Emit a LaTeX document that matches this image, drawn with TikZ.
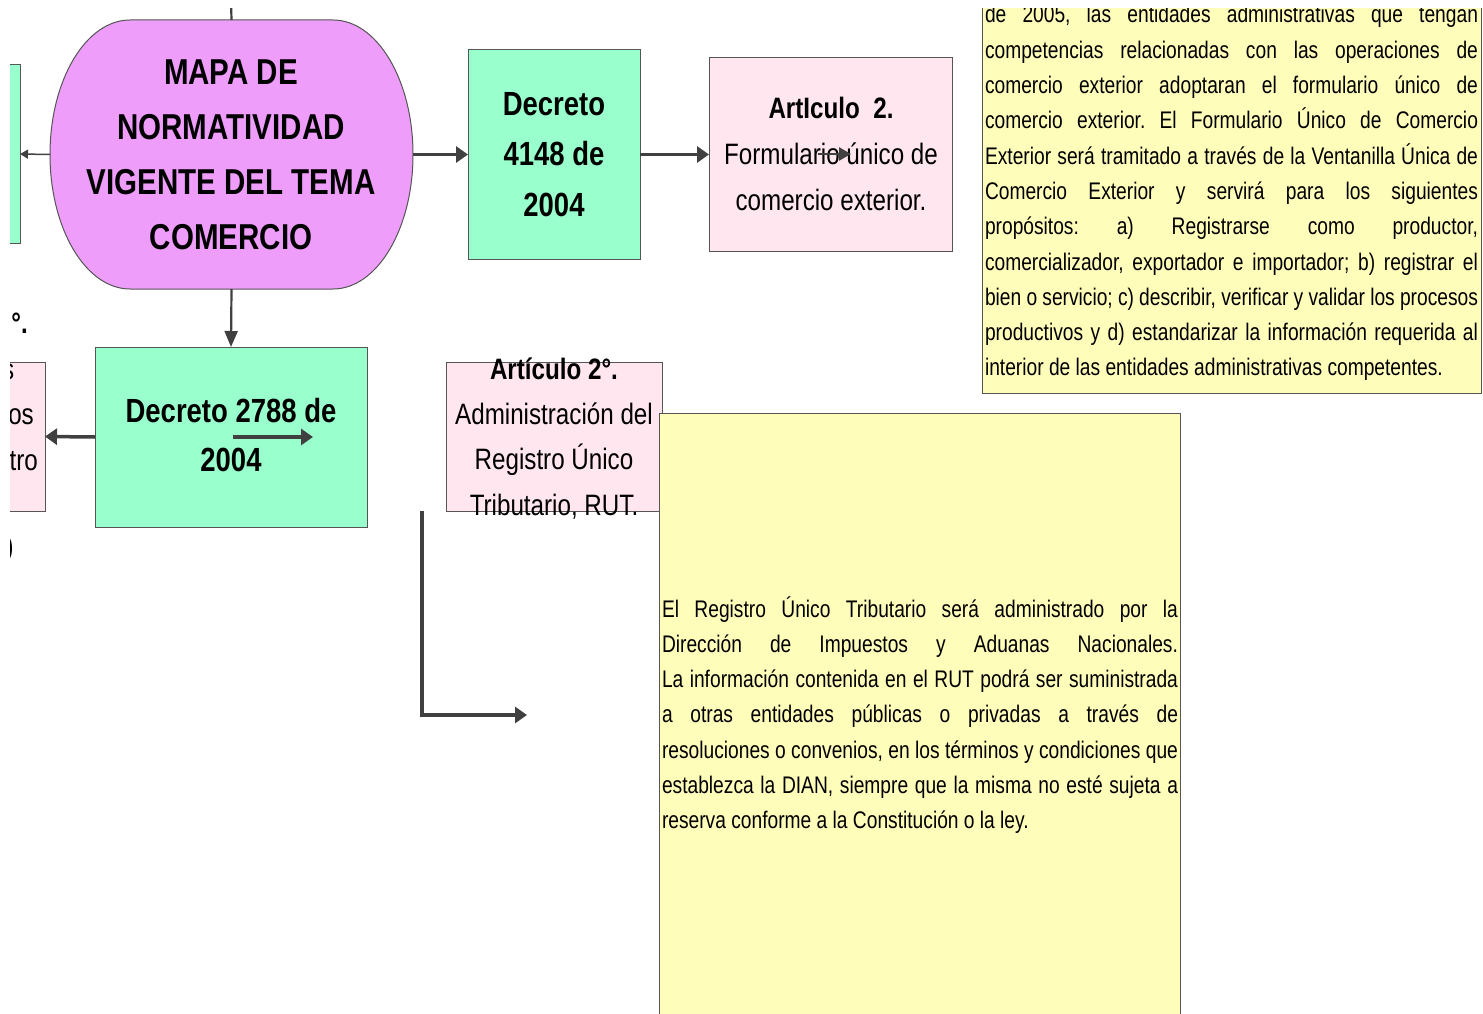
\documentclass[tikz,border=0pt]{standalone}
\usepackage{fontspec}
\setmainfont{Liberation Sans}[FakeStretch=0.82]
\newfontfamily\parafont{Liberation Sans}[FakeStretch=0.8]
\usetikzlibrary{arrows.meta}
\definecolor{purp}{HTML}{EE9EFA}
\definecolor{grn}{HTML}{99FFCC}
\definecolor{pnk}{HTML}{FFE6EF}
\definecolor{ylw}{HTML}{FFFDBA}
\definecolor{lineg}{HTML}{404040}
\definecolor{edgec}{HTML}{555555}
\newcommand\jline[1]{\makebox[\hsize][s]{#1}\\}
\frenchspacing
\begin{document}
\begin{tikzpicture}[x=1pt,y=-1pt,
  box/.style={draw=edgec, line width=1pt, inner sep=0pt, outer sep=0pt},
  txt/.style={inner sep=0pt, outer sep=0pt, align=center, anchor=base},
  bigb/.style={font=\fontsize{33.5}{50.5}\selectfont\bfseries},
  midf/.style={font=\fontsize{29.5}{45.8}\selectfont},
  para/.style={inner sep=0pt, outer sep=0pt, anchor=base west, align=justify, font=\parafont\fontsize{24}{35.3}\selectfont\frenchspacing},
  conn/.style={draw=lineg, line width=3.5pt, -{Triangle[length=12pt,width=16pt]}},
  thinconn/.style={draw=lineg, line width=1.5pt, -{Triangle[length=8pt,width=9pt]}},
  midconn/.style={draw=lineg, line width=2.2pt, -{Triangle[length=16pt,width=13pt]}}]
\useasboundingbox (0,0) rectangle (1483,1014);
\fill[white] (0,0) rectangle (1483,1014);
\clip (10,9) rectangle (1483,1014);

% main stadium shape
\filldraw[fill=purp, draw=edgec, line width=1pt]
  (130,20) -- (333,20) arc[start angle=-90, end angle=90, x radius=80, y radius=134.5]
  -- (130,289) arc[start angle=90, end angle=270, x radius=80, y radius=134.5] -- cycle;
\node[inner sep=0pt, outer sep=0pt, minimum width=363pt, minimum height=269pt] (ell) at (231.5,154.5) {};
\node[txt, font=\fontsize{36}{55}\selectfont\bfseries] (elltxt) at (231,249)
  {MAPA DE\\NORMATIVIDAD\\VIGENTE DEL TEMA\\COMERCIO};

% boxes
\node[box, fill=grn, minimum width=40pt, minimum height=178pt] (lgreen) at (0,154) {};
\node[box, fill=grn, minimum width=172pt, minimum height=209pt] (d4148) at (554,154.5) {};
\node[box, fill=pnk, minimum width=243pt, minimum height=193pt] (art2) at (830.5,154.5) {};
\node[box, fill=ylw, minimum width=499pt, minimum height=453pt] (ytop) at (1231.5,166.5) {};
\node[box, fill=grn, minimum width=272pt, minimum height=180pt] (d2788) at (231,437) {};
\node[box, fill=pnk, minimum width=145pt, minimum height=149pt] (lpink) at (-27.5,436.5) {};
\node[box, fill=pnk, minimum width=216pt, minimum height=149pt] (rut) at (554,436.5) {};

% texts
\node[txt, bigb] (d4148t) at (554,216) {Decreto\\4148 de\\2004};
\node[txt, midf] (art2t) at (831,210) {\textbf{ArtIculo\ \ 2.}\\Formulario único de\\comercio exterior.};
\node[txt, font=\fontsize{33.5}{49}\selectfont\bfseries] (d2788t) at (231,471) {Decreto 2788 de\\2004};
\node[txt, font=\fontsize{29.5}{45.3}\selectfont] (rutt) at (554,515)
  {\textbf{Artículo 2°.}\\Administración del\\Registro Único\\Tributario, RUT.};
\node[inner sep=0pt, anchor=base east, font=\fontsize{29.5}{45}\selectfont\bfseries] (lf1) at (28,333) {°.};
\node[inner sep=0pt, anchor=base east, font=\fontsize{29.5}{45}\selectfont] (lf2) at (14.5,379) {s};
\node[inner sep=0pt, anchor=base east, font=\fontsize{29.5}{45}\selectfont] (lf3) at (34,424) {os};
\node[inner sep=0pt, anchor=base east, font=\fontsize{29.5}{45}\selectfont] (lf4) at (38,470) {tro};
\node[inner sep=0pt, anchor=base east, font=\fontsize{29.5}{45}\selectfont] (lf5) at (14,556) {)};

\node[box, fill=ylw, minimum width=521pt, minimum height=617pt] (ybot) at (919.5,721.5) {};

\node[para, text width=493pt] (ytopt) at (985,23) {%
\jline{de 2005, las entidades administrativas que tengan}
\jline{competencias relacionadas con las operaciones de}
\jline{comercio exterior adoptaran el formulario único de}
\jline{comercio exterior. El Formulario Único de Comercio}
\jline{Exterior será tramitado a través de la Ventanilla Única de}
\jline{Comercio Exterior y servirá para los siguientes}
\jline{propósitos: a) Registrarse como productor,}
\jline{comercializador, exportador e importador; b) registrar el}
\jline{bien o servicio; c) describir, verificar y validar los procesos}
\jline{productivos y d) estandarizar la información requerida al}
interior de las entidades administrativas competentes.};

\node[para, text width=516pt] (ybott) at (662,617) {%
\jline{El Registro Único Tributario será administrado por la}
\jline{Dirección de Impuestos y Aduanas Nacionales.}
\jline{La información contenida en el RUT podrá ser suministrada}
\jline{a otras entidades públicas o privadas a través de}
\jline{resoluciones o convenios, en los términos y condiciones que}
\jline{establezca la DIAN, siempre que la misma no esté sujeta a}
reserva conforme a la Constitución o la ley.};

% connectors
\coordinate (topend) at (231,0);
\draw[draw=lineg, line width=2.2pt] (ell.north) -- (topend);
\draw[conn] (ell.east) -- (d4148.west);
\draw[conn] (d4148.east) -- (art2.west);
\draw[thinconn] (ell.west) -- (lgreen.east);
\draw[midconn] (ell.south) -- (d2788.north);
\draw[conn] (d2788.west) -- (lpink.east);
\coordinate (s1a) at (233,437);
\coordinate (s1b) at (313,437);
\draw[conn] (s1a) -- (s1b);
\coordinate (s2a) at (818,154);
\coordinate (s2b) at (851,154);
\draw[draw=lineg, line width=2.5pt, -{Triangle[length=12pt,width=13pt]}] (s2a) -- (s2b);
\coordinate (e1) at (422,511);
\coordinate (e2) at (527,715);
\draw[conn] (e1) |- (e2);
\end{tikzpicture}
\end{document}
